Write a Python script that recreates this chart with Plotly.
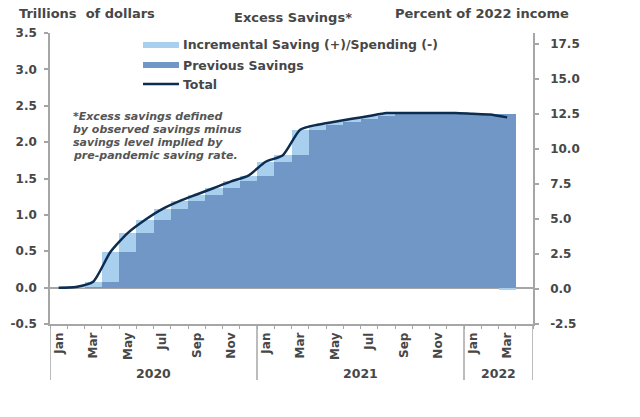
import plotly.graph_objects as go

# ---------------- data ----------------
months = ["Jan", "Feb", "Mar", "Apr", "May", "Jun", "Jul", "Aug", "Sep", "Oct", "Nov", "Dec",
          "Jan", "Feb", "Mar", "Apr", "May", "Jun", "Jul", "Aug", "Sep", "Oct", "Nov", "Dec",
          "Jan", "Feb", "Mar", "Apr"]
years = ["2020", "2021", "2022"]
year_months = [12, 12, 4]

total = [0.00, 0.01, 0.08, 0.49, 0.75, 0.93, 1.08, 1.19, 1.28, 1.37, 1.46, 1.54,
         1.73, 1.82, 2.17, 2.24, 2.28, 2.32, 2.36, 2.40, 2.40, 2.40, 2.40, 2.40,
         2.39, 2.38, 2.34]
previous = [0.00, 0.00, 0.01, 0.08, 0.49, 0.75, 0.93, 1.08, 1.19, 1.28, 1.37, 1.46,
            1.54, 1.73, 1.82, 2.17, 2.24, 2.28, 2.32, 2.36, 2.40, 2.40, 2.40, 2.40,
            2.40, 2.39, 2.38]
incremental = [0.00, 0.01, 0.07, 0.41, 0.26, 0.18, 0.15, 0.11, 0.09, 0.09, 0.09, 0.08,
               0.19, 0.09, 0.35, 0.07, 0.04, 0.04, 0.04, 0.04, 0.00, 0.00, 0.00, 0.00,
               0.00, 0.00, -0.03]

left_ticks = [-0.5, 0.0, 0.5, 1.0, 1.5, 2.0, 2.5, 3.0, 3.5]
left_labels = ["-0.5", "0.0", "0.5", "1.0", "1.5", "2.0", "2.5", "3.0", "3.5"]
right_ticks = [-2.5, 0.0, 2.5, 5.0, 7.5, 10.0, 12.5, 15.0, 17.5]
right_labels = ["-2.5", "0.0", "2.5", "5.0", "7.5", "10.0", "12.5", "15.0", "17.5"]

footnote = ["*Excess savings defined", "by observed savings minus",
            "savings level implied by", "pre-pandemic saving rate."]

# ---------------- style ----------------
DARK = "#7197C6"
LIGHT = "#A9CFEE"
NAVY = "#0C2C50"
AXIS = "#A6A6A6"
TXT = "#474747"
FONT = "DejaVu Sans, Verdana, sans-serif"


def f(size, color=TXT, style="normal"):
    return dict(family=FONT, size=size, color=color, weight="bold", style=style)


W, H = 640, 417
L, R, T, B = 50, 107, 33, 93
PW, PH = W - L - R, H - T - B


def px(x):
    return (x - L) / PW


def py(y):
    return (H - B - y) / PH


idx = list(range(len(total)))
n_slots = len(months)

fig = go.Figure()
fig.add_trace(go.Bar(x=idx, y=previous, name="Previous Savings", marker_color=DARK,
                     marker_line_width=0, width=1.0, showlegend=False))
fig.add_trace(go.Bar(x=idx, y=incremental, name="Incremental Saving (+)/Spending (-)",
                     marker_color=LIGHT, marker_line_width=0, width=1.0, showlegend=False))
fig.add_trace(go.Scatter(x=idx, y=total, mode="lines", name="Total",
                         line=dict(color=NAVY, width=2.5, shape="spline", smoothing=0.6),
                         showlegend=False))
fig.add_trace(go.Scatter(x=[None], y=[None], yaxis="y2", showlegend=False, hoverinfo="skip"))

tickvals = [i for i in range(0, len(total), 2)]
ticktext = [months[i] for i in tickvals]

fig.update_layout(
    width=W, height=H,
    margin=dict(l=L, r=R, t=T, b=B, pad=0),
    paper_bgcolor="white", plot_bgcolor="white",
    barmode="relative", bargap=0,
    font=f(12),
    showlegend=False,
    xaxis=dict(range=[-0.5, n_slots - 0.5], showline=True, linecolor=AXIS, linewidth=1.5,
               tickmode="array", tickvals=tickvals, ticktext=ticktext, tickangle=-90,
               ticks="", showgrid=False, zeroline=False, ticklabelstandoff=2,
               tickfont=f(12),
               minor=dict(ticks="outside", ticklen=3, tickcolor=AXIS, tickwidth=1,
                          tick0=-0.5, dtick=1, showgrid=False)),
    yaxis=dict(range=[-0.5, 3.5], tickmode="array", tickvals=left_ticks, ticktext=left_labels,
               ticks="outside", ticklen=4, tickcolor=AXIS, tickwidth=1.5, ticklabelstandoff=5,
               showline=True, linecolor=AXIS, linewidth=1.5, showgrid=False,
               zeroline=True, zerolinecolor=AXIS, zerolinewidth=1.5,
               tickfont=f(12)),
    yaxis2=dict(range=[-2.5, 18.3], overlaying="y", side="right", tickmode="array",
                tickvals=right_ticks, ticktext=right_labels, ticks="outside", ticklen=4,
                tickcolor=AXIS, tickwidth=1.5, ticklabelstandoff=9, showline=True,
                linecolor=AXIS, linewidth=1.5,
                showgrid=False, zeroline=False, tickfont=f(12)),
)

shapes = []
# year separators below the category axis
b = -0.5
bounds = [b]
for m in year_months:
    b += m
    bounds.append(b)
for xb in bounds:
    shapes.append(dict(type="line", xref="x", yref="paper", x0=xb, x1=xb, y0=0, y1=py(380),
                       line=dict(color=AXIS, width=1.5)))
# manual legend
shapes.append(dict(type="rect", xref="paper", yref="paper", x0=px(143), x1=px(179),
                   y0=py(48), y1=py(42), fillcolor=LIGHT, line=dict(width=0)))
shapes.append(dict(type="rect", xref="paper", yref="paper", x0=px(143), x1=px(179),
                   y0=py(68), y1=py(62), fillcolor=DARK, line=dict(width=0)))
shapes.append(dict(type="line", xref="paper", yref="paper", x0=px(143), x1=px(179),
                   y0=py(84), y1=py(84), line=dict(color=NAVY, width=2.5)))
fig.update_layout(shapes=shapes)

ann = []
for name, yc in [("Incremental Saving (+)/Spending (-)", 45), ("Previous Savings", 65), ("Total", 84)]:
    ann.append(dict(text=name, xref="paper", yref="paper", x=px(181), y=py(yc),
                    xanchor="left", yanchor="middle", showarrow=False, font=f(12.5)))
for i, yr in enumerate(years):
    ann.append(dict(text=yr, xref="x", yref="paper", x=(bounds[i] + bounds[i + 1]) / 2,
                    y=py(373), xanchor="center", yanchor="middle", showarrow=False,
                    font=f(12.5)))
ann.append(dict(text="Trillions  of dollars", xref="paper", yref="paper", x=px(17), y=py(13),
                xanchor="left", yanchor="middle", showarrow=False, font=f(13)))
ann.append(dict(text="Excess Savings*", xref="paper", yref="paper", x=px(293), y=py(18),
                xanchor="center", yanchor="middle", showarrow=False, font=f(13)))
ann.append(dict(text="Percent of 2022 income", xref="paper", yref="paper", x=px(393), y=py(13),
                xanchor="left", yanchor="middle", showarrow=False, font=f(13)))
for k, line in enumerate(footnote):
    ann.append(dict(text=line, xref="paper", yref="paper", x=px(71),
                    y=py(117 + 12.7 * k), xanchor="left", yanchor="middle", showarrow=False,
                    font=f(11, "#555555", "italic")))
fig.update_layout(annotations=ann)

fig.write_html("out.html", config={"displayModeBar": False},
               post_script="document.body.style.margin='0px';")
